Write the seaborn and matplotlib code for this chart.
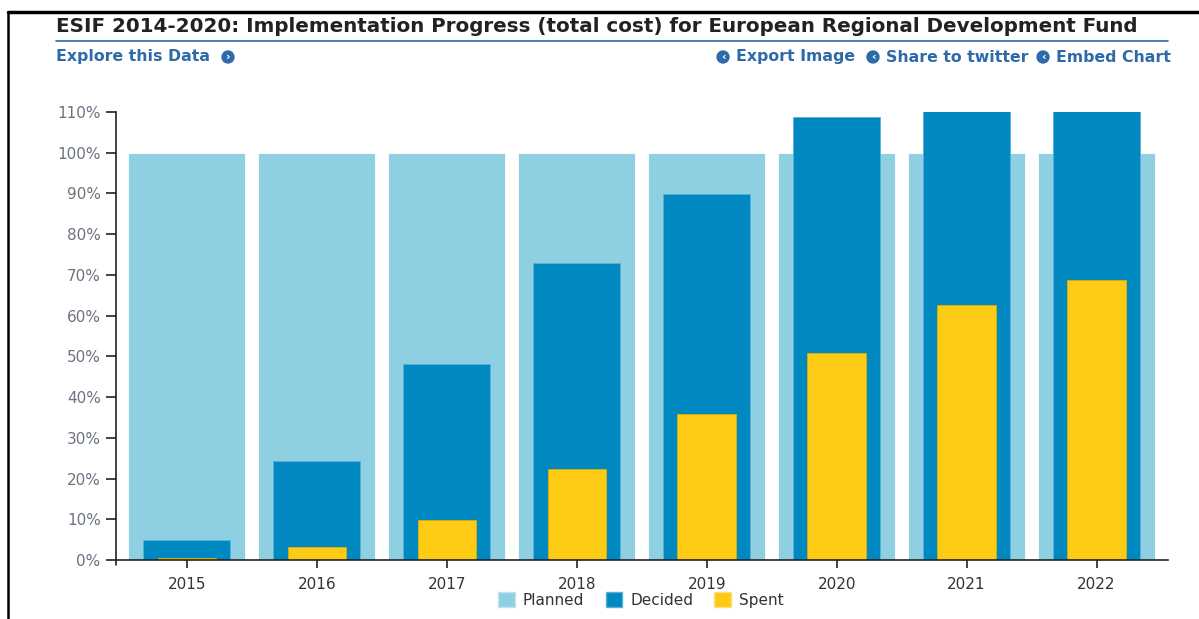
import matplotlib
matplotlib.use("Agg")
import matplotlib.pyplot as plt
import seaborn as sns
import pandas as pd
from matplotlib.patches import Patch
from matplotlib.lines import Line2D

years = ["2015", "2016", "2017", "2018", "2019", "2020", "2021", "2022"]
planned = [100, 100, 100, 100, 100, 100, 100, 100]
decided = [4.9, 24.3, 48.1, 72.9, 89.9, 108.8, 110.2, 110.2]
spent = [0.5, 3.2, 9.8, 22.3, 35.8, 50.8, 62.6, 68.7]
yticks = list(range(0, 111, 10))

c_planned = "#8ecfe2"
c_decided = "#0088c0"
c_spent = "#fecb14"
c_link = "#2e6aa8"

sns.set_theme(style="white")
plt.rcParams["font.family"] = ["DejaVu Sans"]

df = pd.DataFrame({"year": years, "Planned": planned, "Decided": decided, "Spent": spent})

fig = plt.figure(figsize=(11.99, 6.19), dpi=100)
ax = fig.add_axes([116/1199, 1-560/619, (1168-116)/1199, (560-112)/619])

sns.barplot(data=df, x="year", y="Planned", order=years, color=c_planned, width=0.9,
            saturation=1, ax=ax, edgecolor="white", linewidth=0.6)
sns.barplot(data=df, x="year", y="Decided", order=years, color=c_decided, width=0.67,
            saturation=1, ax=ax, edgecolor="#5ab0d8", linewidth=0.6)
sns.barplot(data=df, x="year", y="Spent", order=years, color=c_spent, width=0.45,
            saturation=1, ax=ax, edgecolor="#e0b000", linewidth=0.6)

ax.set_xlim(-0.546, 7.55)
ax.set_ylim(0, 110)
ax.set_yticks(yticks)
ax.set_yticklabels([f"{v}%" for v in yticks])
ax.set_xlabel("")
ax.set_ylabel("")
for s in ["top", "right"]:
    ax.spines[s].set_visible(False)
for s in ["left", "bottom"]:
    ax.spines[s].set_color("#222222")
    ax.spines[s].set_linewidth(1.2)
ax.tick_params(axis="y", direction="out", length=7, width=1.2, color="#222222",
               labelsize=11, labelcolor="#6b7280", pad=4, left=True)
ax.tick_params(axis="x", direction="out", length=6, width=1.2, color="#222222",
               labelsize=11, labelcolor="#333333", pad=6, bottom=True)
# outer tick at left end of x axis
ax.plot([-0.546, -0.546], [0, -1.2], color="#222222", lw=1.2, clip_on=False)

# Legend
handles = [Patch(facecolor=c_planned, edgecolor="#bfe4ef", label="Planned"),
           Patch(facecolor=c_decided, edgecolor="#5ab0d8", label="Decided"),
           Patch(facecolor=c_spent, edgecolor="#ffe080", label="Spent")]
fig.legend(handles=handles, loc="center", bbox_to_anchor=(641/1199, 1-600/619), ncol=3,
           frameon=False, fontsize=11, handlelength=1.1, handleheight=1.1,
           handletextpad=0.5, columnspacing=1.4, labelcolor="#333333")

# Frame lines
fig.add_artist(Line2D([8/1199, 1.0], [1-12/619, 1-12/619], color="black", lw=2.5))
fig.add_artist(Line2D([8/1199, 8/1199], [0, 1-12/619], color="black", lw=1.8))

# Title and underline
fig.text(56/1199, 1-26/619, "ESIF 2014-2020: Implementation Progress (total cost) for European Regional Development Fund",
         fontsize=14.3, fontweight="bold", color="#222222", ha="left", va="center")
fig.add_artist(Line2D([56/1199, 1168/1199], [1-41/619, 1-41/619], color="#2e6aa8", lw=1.2))

# Links
fig.text(56/1199, 1-57/619, "Explore this Data", fontsize=11.3, fontweight="bold",
         color=c_link, ha="left", va="center")
fig.text(228/1199, 1-57/619, "›", fontsize=8, fontweight="bold", color="white",
         ha="center", va="center",
         bbox=dict(boxstyle="circle,pad=0.15", fc=c_link, ec="none"))

links = [("Export Image", 736), ("Share to twitter", 886), ("Embed Chart", 1056)]
for txt, x0 in links:
    fig.text(x0/1199, 1-57/619, txt, fontsize=11.3, fontweight="bold",
             color=c_link, ha="left", va="center")
    fig.text((x0-13)/1199, 1-57/619, "‹", fontsize=8, fontweight="bold", color="white",
             ha="center", va="center",
             bbox=dict(boxstyle="circle,pad=0.15", fc=c_link, ec="none"))

fig.savefig("out.png", dpi=100)
